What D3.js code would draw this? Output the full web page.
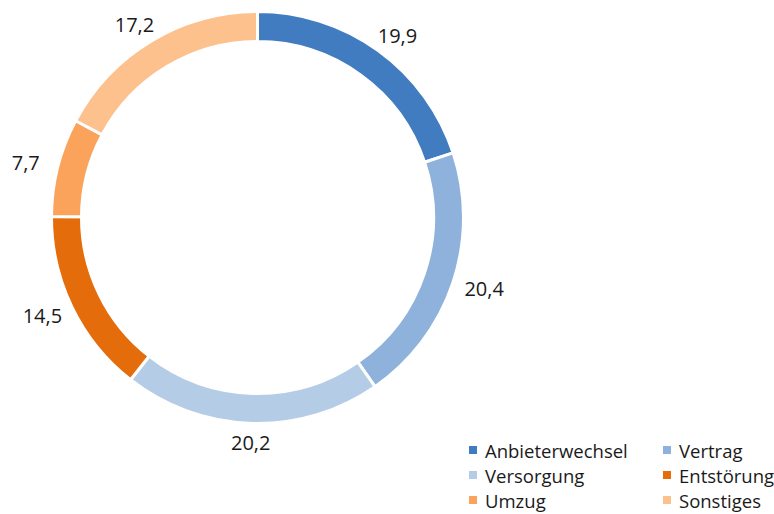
<!DOCTYPE html>
<html>
<head>
<meta charset="utf-8">
<script src="https://cdn.jsdelivr.net/npm/d3@7"></script>
<style>
  body { margin: 0; background: #fff; }
  svg { display: block; font-family: "Open Sans", Lato, sans-serif; }
</style>
</head>
<body>
<svg id="chart" width="774" height="514"></svg>
<script>
// Data
const categories = ['Anbieterwechsel', 'Vertrag', 'Versorgung', 'Entstörung', 'Umzug', 'Sonstiges'];
const values     = [19.9, 20.4, 20.2, 14.5, 7.7, 17.2];
const colors     = ['#417cc1', '#8eb2dc', '#b5cce7', '#e46c0a', '#fba25b', '#fdc18e'];

const W = 774, H = 514;
const CX = 257.5, CY = 217.5;
const R_OUT = 206, R_IN = 176;

const svg = d3.select('#chart');
const fmt = v => d3.format('.1f')(v).replace('.', ',');

const pie = d3.pie().sort(null).value(d => d)
  .startAngle(0).endAngle(2 * Math.PI);
const arcs = pie(values);

const arc = d3.arc().innerRadius(R_IN).outerRadius(R_OUT);

const g = svg.append('g').attr('transform', `translate(${CX},${CY})`);

g.selectAll('path')
  .data(arcs)
  .enter()
  .append('path')
  .attr('d', arc)
  .attr('fill', (d, i) => colors[i])
  .attr('stroke', '#fff')
  .attr('stroke-width', 3);

// Labels outside the ring
const LBL_W = 46, LBL_H = 22;
g.selectAll('text.lbl')
  .data(arcs)
  .enter()
  .append('text')
  .attr('class', 'lbl')
  .attr('x', d => {
    const a = (d.startAngle + d.endAngle) / 2;
    return Math.sin(a) * (R_OUT + 10) + Math.sin(a) * LBL_W / 2;
  })
  .attr('y', d => {
    const a = (d.startAngle + d.endAngle) / 2;
    return -Math.cos(a) * (R_OUT + 8) - Math.cos(a) * LBL_H / 2;
  })
  .attr('text-anchor', 'middle')
  .attr('dominant-baseline', 'central')
  .attr('font-size', 20)
  .attr('fill', '#1a1a1a')
  .text(d => fmt(d.data));

// Legend
const legX = [469, 663], legY0 = 450, legDY = 25;
const leg = svg.append('g').selectAll('g')
  .data(categories)
  .enter()
  .append('g')
  .attr('transform', (d, i) => `translate(${legX[i % 2]},${legY0 + Math.floor(i / 2) * legDY})`);

leg.append('rect')
  .attr('x', 0).attr('y', -4)
  .attr('width', 8).attr('height', 8)
  .attr('fill', (d, i) => colors[i]);

leg.append('text')
  .attr('x', 16)
  .attr('dominant-baseline', 'central')
  .attr('font-size', 18.5)
  .attr('fill', '#1a1a1a')
  .text(d => d);
</script>
</body>
</html>
